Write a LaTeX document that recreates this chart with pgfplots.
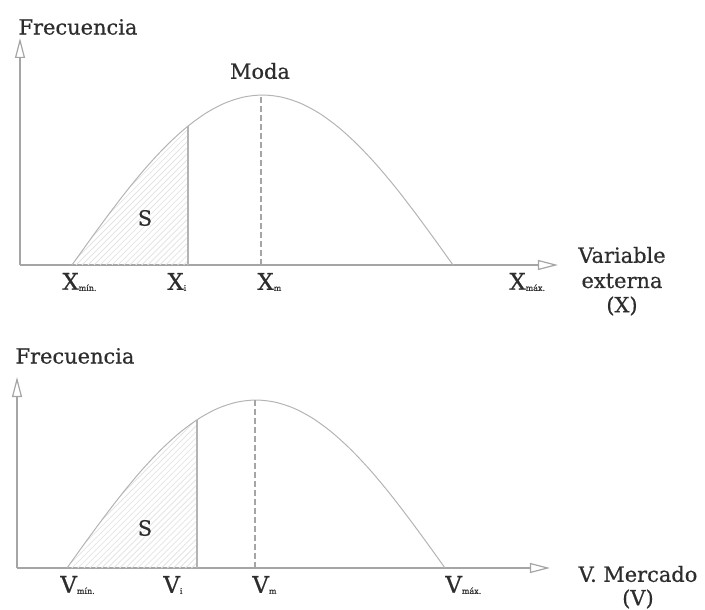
\documentclass[border=0pt]{standalone}
\usepackage{pgfplots}
\pgfplotsset{compat=1.18}
\usepackage{fontspec}
\setmainfont{DejaVu Serif}
\newfontfamily\medfont{DejaVu Serif}[FakeBold=0.6]
\usetikzlibrary{arrows.meta,patterns}
\definecolor{axgray}{RGB}{165,165,165}
\definecolor{curvegray}{RGB}{180,180,180}
\definecolor{txtgray}{RGB}{45,45,45}
\definecolor{hatchgray}{RGB}{228,228,228}
\newcommand{\sub}[1]{\raisebox{-0.1ex}{\fontsize{4}{4}\selectfont #1}}
\pgfplotsset{
  myaxis/.style={
    x=0.5bp, y=0.5bp,
    axis x line=bottom, axis y line=left,
    xmin=0, ymin=0,
    ticks=none,
    clip=false,
    axis line style={draw=axgray, line width=1.3bp, -{Triangle[open, length=10bp, width=5bp, line width=0.6bp]}},
  },
  curve/.style={draw=curvegray, line width=0.5bp, smooth, no marks},
}
\begin{document}
\begin{tikzpicture}
\useasboundingbox (0,0) rectangle (352.5bp,305bp);
\medfont\fontsize{10.5}{12.6}\selectfont
% ---------- top panel ----------
\begin{axis}[myaxis, xmax=538, ymax=227, anchor=south west, at={(10bp,172.5bp)}]
\addplot[draw=none, pattern=north east lines, pattern color=hatchgray] coordinates {
 (52,0) (71.05,26.6) (90.1,52.5) (109.15,77.2) (128.2,99.9) (147.25,120.2) (166.3,137.5) (168,138.9) (168,0)} -- cycle;
\addplot[curve] coordinates {
 (52,0) (71.05,26.6) (90.1,52.5) (109.15,77.2) (128.2,99.9) (147.25,120.2) (166.3,137.5)
 (185.35,151.5) (204.4,161.7) (223.45,167.9) (242.5,170) (261.55,167.9) (280.6,161.7)
 (299.65,151.5) (318.7,137.5) (337.75,120.2) (356.8,99.9) (375.85,77.2) (394.9,52.5)
 (413.95,26.6) (433,0)};
\addplot[draw=curvegray, line width=0.6bp, no marks] coordinates {(168,0) (168,138.9)};
\addplot[draw=axgray, line width=0.7bp, dashed, dash pattern=on 3bp off 1.5bp, no marks] coordinates {(241,0) (241,170)};
\node[txtgray] at (axis cs:58,238) {Frecuencia};
\node[txtgray] at (axis cs:240,194) {Moda};
\node[txtgray] at (axis cs:125,47) {S};
\node[txtgray, anchor=west, inner sep=0pt] at (axis cs:42,-17) {\fontsize{11.5}{12}\selectfont X\sub{mín.}};
\node[txtgray, anchor=west, inner sep=0pt] at (axis cs:147,-17) {\fontsize{11.5}{12}\selectfont X\sub{i}};
\node[txtgray, anchor=west, inner sep=0pt] at (axis cs:237,-17) {\fontsize{11.5}{12}\selectfont X\sub{m}};
\node[txtgray, anchor=west, inner sep=0pt] at (axis cs:489,-17) {\fontsize{11.5}{12}\selectfont X\sub{máx.}};
\node[txtgray] at (axis cs:602,10) {Variable};
\node[txtgray] at (axis cs:602,-16) {externa};
\node[txtgray] at (axis cs:602,-41) {(X)};
\end{axis}
% ---------- bottom panel ----------
\begin{axis}[myaxis, xmax=533, ymax=191, anchor=south west, at={(8.5bp,21bp)}]
\addplot[draw=none, pattern=north east lines, pattern color=hatchgray] coordinates {
 (50,0) (68.9,26.3) (87.8,51.9) (106.7,76.3) (125.6,98.8) (144.5,118.8) (163.4,135.9) (180,148.2) (180,0)} -- cycle;
\addplot[curve] coordinates {
 (50,0) (68.9,26.3) (87.8,51.9) (106.7,76.3) (125.6,98.8) (144.5,118.8) (163.4,135.9)
 (182.3,149.7) (201.2,159.8) (220.1,165.9) (239,168) (257.9,165.9) (276.8,159.8)
 (295.7,149.7) (314.6,135.9) (333.5,118.8) (352.4,98.8) (371.3,76.3) (390.2,51.9)
 (409.1,26.3) (428,0)};
\addplot[draw=curvegray, line width=0.6bp, no marks] coordinates {(180,0) (180,148.2)};
\addplot[draw=axgray, line width=0.7bp, dashed, dash pattern=on 3bp off 1.5bp, no marks] coordinates {(238,0) (238,168)};
\node[txtgray] at (axis cs:58,212) {Frecuencia};
\node[txtgray] at (axis cs:128,40) {S};
\node[txtgray, anchor=west, inner sep=0pt] at (axis cs:43,-17) {\fontsize{11.5}{12}\selectfont V\sub{mín.}};
\node[txtgray, anchor=west, inner sep=0pt] at (axis cs:146,-17) {\fontsize{11.5}{12}\selectfont V\sub{i}};
\node[txtgray, anchor=west, inner sep=0pt] at (axis cs:235,-17) {\fontsize{11.5}{12}\selectfont V\sub{m}};
\node[txtgray, anchor=west, inner sep=0pt] at (axis cs:428,-17) {\fontsize{11.5}{12}\selectfont V\sub{máx.}};
\node[txtgray] at (axis cs:621,-6) {V. Mercado};
\node[txtgray] at (axis cs:621,-31) {(V)};
\end{axis}
\end{tikzpicture}
\end{document}
